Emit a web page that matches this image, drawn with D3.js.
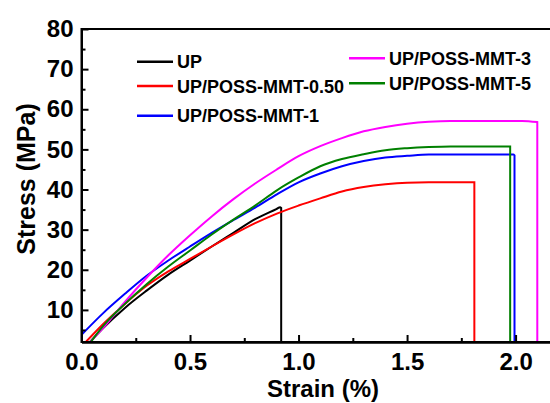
<!DOCTYPE html>
<html>
<head>
<meta charset="utf-8">
<script src="https://cdn.jsdelivr.net/npm/d3@7"></script>
<style>
  html, body { margin: 0; padding: 0; background: #fff; }
  svg { display: block; }
  text { font-family: "Liberation Sans", Arial, sans-serif; }
</style>
</head>
<body>
<svg id="chart" width="550" height="403"></svg>
<script>
// ---- data ----
const seriesNames = ["UP", "UP/POSS-MMT-0.50", "UP/POSS-MMT-1", "UP/POSS-MMT-3", "UP/POSS-MMT-5"];
const seriesColors = ["#000000", "#ff0000", "#0000ff", "#ff00ff", "#008000"];

const strainUP   = [0.03, 0.1, 0.2, 0.3, 0.4, 0.5, 0.6, 0.7, 0.8, 0.9, 0.915, 0.92, 0.92];
const stressUP   = [1.5, 5.5, 10.5, 14.8, 18.8, 22.3, 25.8, 29.2, 32.6, 35.2, 35.6, 35.4, 0];

const strainM050 = [0.016, 0.1, 0.2, 0.3, 0.4, 0.5, 0.6, 0.7, 0.8, 0.9, 1.0, 1.1, 1.2, 1.3, 1.4, 1.5, 1.6, 1.81, 1.81];
const stressM050 = [1.8, 6.5, 11.5, 16.0, 19.6, 22.7, 25.8, 28.8, 31.6, 34.0, 36.0, 37.8, 39.5, 40.6, 41.3, 41.7, 41.8, 41.8, 0];

const strainM1   = [0.0, 0.1, 0.2, 0.3, 0.4, 0.5, 0.6, 0.7, 0.8, 0.9, 1.0, 1.1, 1.2, 1.3, 1.4, 1.5, 1.6, 1.99, 1.995, 1.995];
const stressM1   = [3.8, 9.2, 14.0, 18.5, 22.3, 25.8, 29.2, 32.4, 35.5, 38.8, 41.8, 44.0, 45.8, 47.1, 48.0, 48.4, 48.7, 48.7, 48.5, 0];

const strainM3   = [0.04, 0.1, 0.2, 0.3, 0.4, 0.5, 0.6, 0.7, 0.8, 0.9, 1.0, 1.1, 1.2, 1.3, 1.4, 1.5, 1.6, 1.7, 2.03, 2.10, 2.10];
const stressM3   = [2.0, 5.5, 12.0, 18.0, 23.6, 28.6, 33.3, 37.6, 41.5, 45.0, 48.3, 50.8, 52.8, 54.5, 55.6, 56.4, 56.9, 57.1, 57.1, 56.8, 0];

const strainM5   = [0.04, 0.1, 0.2, 0.3, 0.4, 0.5, 0.6, 0.7, 0.8, 0.9, 1.0, 1.1, 1.2, 1.3, 1.4, 1.5, 1.6, 1.7, 1.975, 1.975];
const stressM5   = [1.8, 6.0, 11.5, 16.4, 20.8, 24.8, 28.8, 32.5, 36.0, 39.8, 43.0, 45.8, 47.6, 48.8, 49.8, 50.3, 50.6, 50.75, 50.75, 0];

const xTicks = [0.0, 0.5, 1.0, 1.5, 2.0];
const xMinorTicks = [0.25, 0.75, 1.25, 1.75];
const yTicks = [10, 20, 30, 40, 50, 60, 70, 80];
const yMinorTicks = [5, 15, 25, 35, 45, 55, 65, 75];
const xTitle = "Strain (%)";
const yTitle = "Stress (MPa)";

const strainArrays = [strainUP, strainM050, strainM1, strainM3, strainM5];
const stressArrays = [stressUP, stressM050, stressM1, stressM3, stressM5];

// ---- layout ----
const svg = d3.select("#chart");
const pLeft = 81.5, pRight = 559, pTop = 29, pBottom = 342;

const x = d3.scaleLinear().domain([0, 2.2]).range([pLeft, pRight]);
const y = d3.scaleLinear().domain([2, 80]).range([pBottom, pTop]);

svg.append("defs").append("clipPath").attr("id", "plotclip")
  .append("rect").attr("x", pLeft).attr("y", pTop).attr("width", pRight - pLeft).attr("height", pBottom - pTop);

// curves: smooth rising part + straight fracture drop
const smooth = d3.line().x(d => x(d[0])).y(d => y(d[1])).curve(d3.curveMonotoneX);
const straight = d3.line().x(d => x(d[0])).y(d => y(d[1])).curve(d3.curveLinear);
const gLines = svg.append("g").attr("clip-path", "url(#plotclip)");
seriesNames.forEach((name, i) => {
  const pts = strainArrays[i].map((s, k) => [s, stressArrays[i][k]]);
  const n = pts.length;
  const d = smooth(pts.slice(0, n - 1)) + straight(pts.slice(n - 2)).replace(/^M[^L]*/, "");
  gLines.append("path")
    .attr("d", d)
    .attr("fill", "none")
    .attr("stroke", seriesColors[i])
    .attr("stroke-width", 2)
    .attr("stroke-linejoin", "miter");
});

// frame
svg.append("rect")
  .attr("x", pLeft).attr("y", pTop)
  .attr("width", pRight - pLeft).attr("height", pBottom - pTop)
  .attr("fill", "none").attr("stroke", "#000").attr("stroke-width", 2);

// axes
const fontCss = "bold 24px 'Liberation Sans', Arial, sans-serif";
const xAxis = d3.axisBottom(x).tickValues(xTicks).tickFormat(d3.format(".1f"))
  .tickSizeInner(-7).tickSizeOuter(0).tickPadding(11);
const gx = svg.append("g").attr("transform", `translate(0,${pBottom})`).call(xAxis);
const xMinor = d3.axisBottom(x).tickValues(xMinorTicks).tickFormat("").tickSizeInner(-4).tickSizeOuter(0);
const gxm = svg.append("g").attr("transform", `translate(0,${pBottom})`).call(xMinor);

const yAxis = d3.axisLeft(y).tickValues(yTicks).tickFormat(d3.format("d"))
  .tickSizeInner(-7).tickSizeOuter(0).tickPadding(8);
const gy = svg.append("g").attr("transform", `translate(${pLeft},0)`).call(yAxis);
const yMinor = d3.axisLeft(y).tickValues(yMinorTicks).tickFormat("").tickSizeInner(-4).tickSizeOuter(0);
const gym = svg.append("g").attr("transform", `translate(${pLeft},0)`).call(yMinor);

[gx, gxm, gy, gym].forEach(g => {
  g.select(".domain").attr("stroke", "#000").attr("stroke-width", 2);
  g.selectAll(".tick line").attr("stroke", "#000").attr("stroke-width", 2);
  g.selectAll(".tick text")
    .attr("fill", "#000")
    .style("font", fontCss);
});

// axis titles
svg.append("text")
  .attr("x", 323).attr("y", 397)
  .attr("text-anchor", "middle")
  .style("font", "bold 24px 'Liberation Sans', Arial, sans-serif")
  .attr("fill", "#000")
  .text(xTitle);

svg.append("text")
  .attr("transform", "translate(35,179) rotate(-90)")
  .attr("text-anchor", "middle")
  .style("font", "bold 25px 'Liberation Sans', Arial, sans-serif")
  .attr("fill", "#000")
  .text(yTitle);

// legend
const legendPos = [
  {lx: 137, ly: 61.7},
  {lx: 137, ly: 86},
  {lx: 137, ly: 115.7},
  {lx: 349, ly: 58.3},
  {lx: 349, ly: 83.3}
];
const gLeg = svg.append("g");
seriesNames.forEach((name, i) => {
  const p = legendPos[i];
  gLeg.append("line")
    .attr("x1", p.lx).attr("x2", p.lx + 36)
    .attr("y1", p.ly).attr("y2", p.ly)
    .attr("stroke", seriesColors[i]).attr("stroke-width", 2.5);
  gLeg.append("text")
    .attr("x", p.lx + 40).attr("y", p.ly + 6.5)
    .style("font", "bold 18px 'Liberation Sans', Arial, sans-serif")
    .attr("fill", "#000")
    .text(name);
});
</script>
</body>
</html>
